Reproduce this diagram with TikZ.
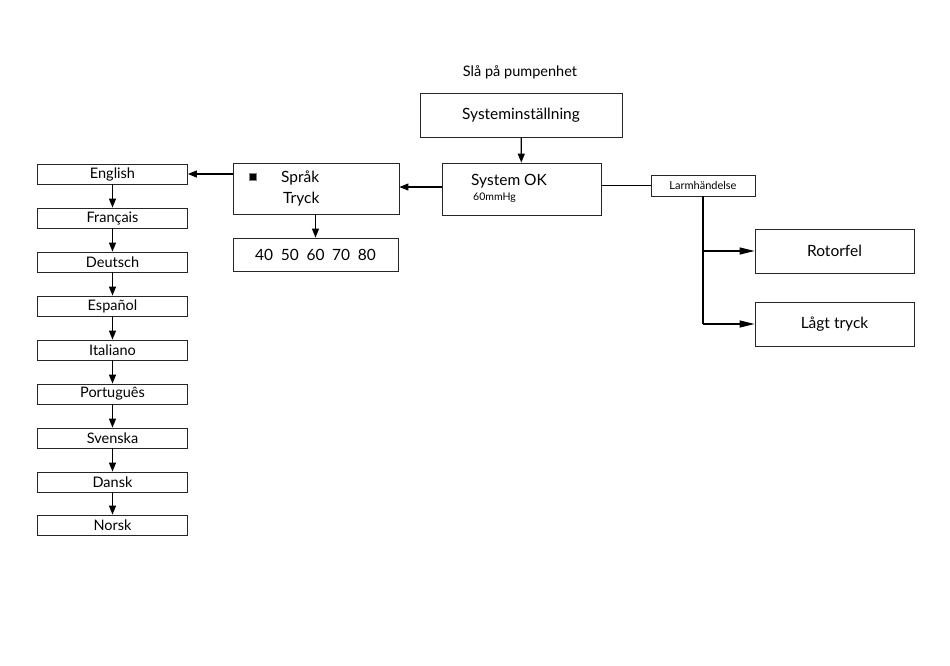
\documentclass[tikz,border=0pt]{standalone}
\usepackage{fontspec}
\setmainfont{Lato}
\usetikzlibrary{arrows.meta}
\usetikzlibrary{positioning}

\begin{document}
\begin{tikzpicture}
    [x=1pt,y=-1pt,
    box/.style={rectangle,draw=black!85,line width=0.8pt,
      inner sep=0pt,font=\fontsize{15.5}{17}\selectfont},
    langbox/.style={box,minimum width=150pt,minimum height=20pt,
      font=\fontsize{14.5}{16}\selectfont},
    label/.style={inner sep=0pt,anchor=west},
    arrow/.style={-{Triangle[length=9pt,width=7pt]},line width=1.2pt},
    branch/.style={-{Triangle[length=15pt,width=7pt]},line width=1.2pt}]

    \useasboundingbox (0,0) rectangle (950,665);

    \node[inner sep=0pt,font=\fontsize{14.5}{16}\selectfont]
                   (power on)   at (520,72)    {Slå på pumpenhet};

    \node[box,minimum width=202pt,minimum height=44pt]
                   (setup)      at (521,115)   {Systeminställning};

    \node[box,minimum width=159pt,minimum height=52pt]
                   (system ok)  at (521.5,189) {};
    \node[label,font=\fontsize{15.5}{17}\selectfont]
                   (ok text)    at (471,181)   {System OK};
    \node[label,font=\fontsize{10.5}{12}\selectfont]
                   (ok value)   at (473,198)   {60mmHg};

    \node[box,minimum width=104pt,minimum height=21pt,
          font=\fontsize{11}{13}\selectfont]
                   (alarm)      at (703,185.5) {Larmhändelse};

    \node[box,minimum width=159pt,minimum height=44pt]
                   (rotor)      at (834.5,251) {Rotorfel};

    \node[box,minimum width=159pt,minimum height=44pt]
                   (low press)  at (834.5,324) {Lågt tryck};

    \node[box,minimum width=166pt,minimum height=51pt]
                   (menu)       at (316,188.5) {};
    \node[rectangle,fill=black,draw=black!50,line width=0.4pt,
          minimum size=7pt,inner sep=0pt]
                   (cursor)     at (253,177)   {};
    \node[label,font=\fontsize{15.5}{17}\selectfont]
                   (lang text)  at (281,178)   {Språk};
    \node[label,font=\fontsize{15.5}{17}\selectfont]
                   (press text) at (283,199)   {Tryck};

    \node[box,minimum width=165pt,minimum height=33pt]
                   (pressures)  at (315.5,254.5) {40\enspace 50\enspace 60\enspace 70\enspace 80};

    % language list
    \node[langbox] (english)    at (112.5,174) {English};
    \node[langbox] (french)     at (112.5,218) {Français};
    \node[langbox] (german)     at (112.5,262) {Deutsch};
    \node[langbox] (spanish)    at (112.5,306) {Español};
    \node[langbox] (italian)    at (112.5,350) {Italiano};
    \node[langbox] (portuguese) at (112.5,394) {Português};
    \node[langbox] (swedish)    at (112.5,438) {Svenska};
    \node[langbox] (danish)     at (112.5,482) {Dansk};
    \node[langbox] (norwegian)  at (112.5,525) {Norsk};

    % connectors
    \draw[arrow] (setup) -- (system ok);
    \draw[arrow] ([yshift=2pt]system ok.west) -- ([yshift=2pt]system ok.west -| menu.east);
    \draw[line width=0.9pt] (alarm.west -| system ok.east) -- (alarm.west);
    \draw[line width=1.2pt] (alarm.south) -- (alarm.south |- low press.west);
    \draw[branch] (alarm.south |- rotor.west) -- (rotor.west);
    \draw[branch] (alarm.south |- low press.west) -- (low press.west);
    \draw[arrow] (menu.south -| pressures.north) -- (pressures.north);
    \draw[arrow] (english.east -| menu.west) -- (english.east);

    \draw[arrow] (english)    -- (french);
    \draw[arrow] (french)     -- (german);
    \draw[arrow] (german)     -- (spanish);
    \draw[arrow] (spanish)    -- (italian);
    \draw[arrow] (italian)    -- (portuguese);
    \draw[arrow] (portuguese) -- (swedish);
    \draw[arrow] (swedish)    -- (danish);
    \draw[arrow] (danish)     -- (norwegian);

  \end{tikzpicture}
\end{document}
